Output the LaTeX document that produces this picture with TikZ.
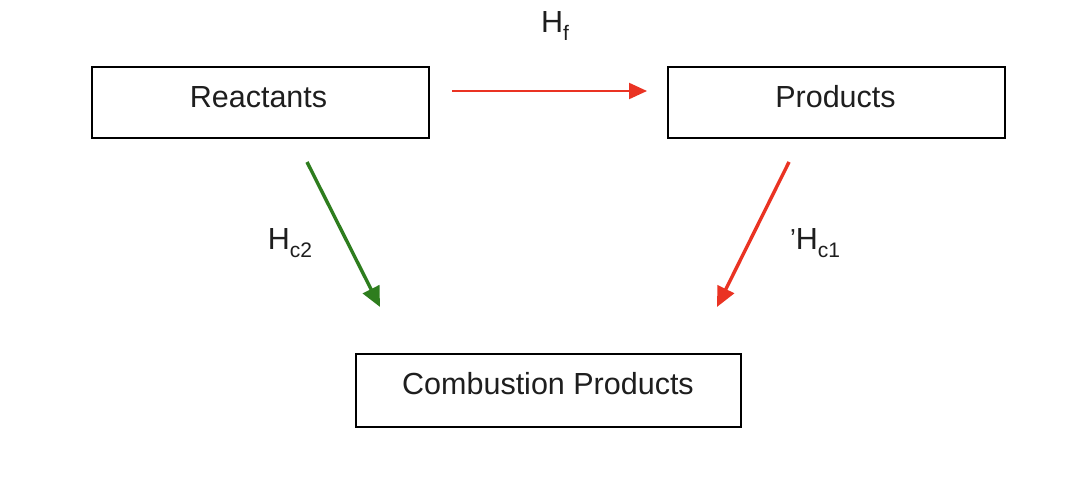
\documentclass[tikz,border=0pt]{standalone}
\usepackage{fontspec}
\setmainfont{Liberation Sans}
\usetikzlibrary{arrows.meta}
\definecolor{arrred}{RGB}{234,51,35}
\definecolor{arrgreen}{RGB}{46,125,30}
\definecolor{txtgray}{RGB}{30,30,30}
\newcommand{\sbs}[1]{\raisebox{-0.28em}{\fontsize{21}{24}\selectfont #1}}
\begin{document}
\begin{tikzpicture}[x=1pt,y=-1pt,
  box/.style={draw=black, line width=1.1pt, inner sep=0pt},
  lbl/.style={font=\fontsize{30.5}{34}\selectfont, text=txtgray, inner sep=0pt},
  conn/.style={line width=3.4pt, -{Triangle[length=20pt,width=18pt]}},
]
\useasboundingbox (0,0) rectangle (1092,500);
\fill[white] (0,0) rectangle (1092,500);
% boxes
\node[box, minimum width=337pt, minimum height=71pt] (r) at (260.5,102.5) {};
\node[box, minimum width=337pt, minimum height=71pt] (p) at (836.5,102.5) {};
\node[box, minimum width=385pt, minimum height=73pt] (c) at (548.5,390.5) {};
\node[lbl] (rt) at (258.5,97) {Reactants};
\node[lbl] (pt) at (835.5,97) {Products};
\node[lbl] (ct) at (548,384) {Combustion Products};
% anchor coordinates for connectors
\coordinate (a1) at (452,91);
\coordinate (a2) at (647,91);
\coordinate (g1) at (307,162);
\coordinate (g2) at (380,307);
\coordinate (b1) at (789,162);
\coordinate (b2) at (717,307);
\draw[conn, arrred, line width=2.2pt, -{Triangle[length=18pt,width=16pt]}] (a1) -- (a2);
\draw[conn, arrgreen] (g1) -- (g2);
\draw[conn, arrred] (b1) -- (b2);
% labels
\node[lbl] (hf) at (555,26) {H\sbs{f}};
\node[lbl] (hc2) at (290,243) {H\sbs{c2}};
\node[lbl] (hc1) at (815,243) {\raisebox{0.05em}{\fontsize{26}{28}\selectfont '}H\sbs{c1}};
\end{tikzpicture}
\end{document}
